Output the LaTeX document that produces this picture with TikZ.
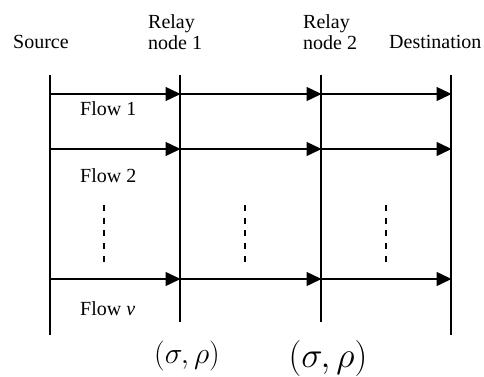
\RequirePackage{fix-cm}
\documentclass[tikz,border=0pt]{standalone}
\usepackage{fontspec}
\setmainfont{Liberation Serif}
\usetikzlibrary{arrows.meta}
\begin{document}
\begin{tikzpicture}[x=1pt,y=-1pt,
  lbl/.style={font=\fontsize{20}{21}\selectfont, inner sep=0pt, align=left},
  vline/.style={line width=1.4pt},
  flow/.style={line width=1.4pt, -{Triangle[length=15pt,width=14pt]}, shorten >=-0.5pt},
  dotsline/.style={line width=1.6pt, dash pattern=on 6pt off 6.7pt}]
\useasboundingbox (0,0) rectangle (484,377);
% vertical lines
\coordinate (S0) at (50,75);  \coordinate (S1) at (50,335);
\coordinate (A0) at (180,75); \coordinate (A1) at (180,322);
\coordinate (B0) at (321,75); \coordinate (B1) at (321,322);
\coordinate (D0) at (451,75); \coordinate (D1) at (451,335);
\draw[vline] (S0) -- (S1);
\draw[vline] (A0) -- (A1);
\draw[vline] (B0) -- (B1);
\draw[vline] (D0) -- (D1);
% flows
\foreach \n/\y in {1/94,2/149,3/279}{
  \coordinate (s\n) at (50,\y);
  \coordinate (a\n) at (180,\y);
  \coordinate (b\n) at (321,\y);
  \coordinate (d\n) at (451,\y);
  \draw[flow] (s\n) -- (a\n);
  \draw[flow] (a\n) -- (b\n);
  \draw[flow] (b\n) -- (d\n);
}
% dashed continuation marks
\foreach \x/\k in {104/1,245/2,386/3}{
  \coordinate (t\k) at (\x,205);
  \coordinate (u\k) at (\x,262);
  \draw[dotsline] (t\k) -- (u\k);
}
% labels
\node[lbl, anchor=base west] (src) at (13,49) {Source};
\node[lbl, anchor=north west] (r1) at (148,14) {Relay\\node 1};
\node[lbl, anchor=north west] (r2) at (303,14) {Relay\\node 2};
\node[lbl, anchor=base west] (dst) at (389,49) {Destination};
\node[lbl, anchor=base west] (f1) at (80,115) {Flow 1};
\node[lbl, anchor=base west] (f2) at (80,182) {Flow 2};
\node[lbl, anchor=base west] (fv) at (80,315) {Flow \textit{v}};
\node[inner sep=0pt, font=\fontsize{30}{32}\selectfont] (sr1) at (187,356) {$(\sigma,\rho)$};
\node[inner sep=0pt, font=\fontsize{36}{38}\selectfont] (sr2) at (328,358) {$(\sigma,\rho)$};
\end{tikzpicture}
\end{document}
